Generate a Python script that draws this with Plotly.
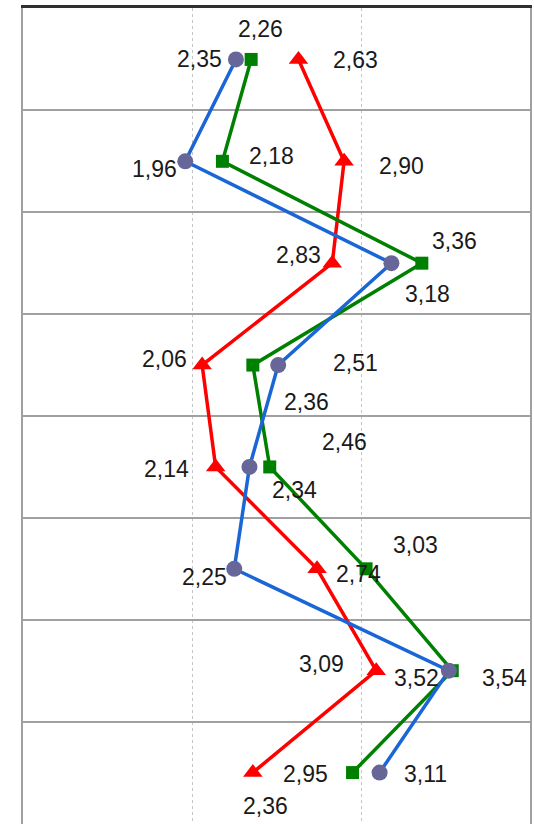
import plotly.graph_objects as go

categories = ["1", "2", "3", "4", "5", "6", "7", "8"]
blue_values = [2.26, 1.96, 3.18, 2.51, 2.34, 2.25, 3.52, 3.11]
green_values = [2.35, 2.18, 3.36, 2.36, 2.46, 3.03, 3.54, 2.95]
red_values = [2.63, 2.90, 2.83, 2.06, 2.14, 2.74, 3.09, 2.36]

# label offsets in pixels (dx right, dy down) relative to each point
blue_offsets = [(25, -30), (-31, 8), (36, 31), (77, -2), (45, 23), (-30, 8), (-32, 7), (46, 1)]
green_offsets = [(-52, 0), (49, -5), (33, -22), (54, 37), (75, -25), (49, -24), (52, 7), (-47, 1)]
red_offsets = [(57, 1), (57, 5), (-34, -8), (-38, -6), (-49, 2), (41, 5), (-55, -7), (13, 33)]

series = [
    ("red", red_values, red_offsets, "#ff0000", "#ff0000", "triangle-up", 17),
    ("green", green_values, green_offsets, "#008000", "#008000", "square", 13),
    ("blue", blue_values, blue_offsets, "#1a66d6", "#666699", "circle", 16),
]

fig = go.Figure()
annotations = []
for name, vals, offs, lc, mc, sym, size in series:
    fig.add_trace(go.Scatter(
        x=vals, y=categories, mode="lines+markers", name=name,
        line=dict(color=lc, width=3.5),
        marker=dict(color=mc, symbol=sym, size=size, line=dict(width=0)),
        showlegend=False, hoverinfo="skip",
    ))
    for i, (v, (dx, dy)) in enumerate(zip(vals, offs)):
        annotations.append(dict(
            x=v, y=i, xref="x", yref="y", text=f"{v:.2f}".replace(".", ","),
            showarrow=False, xshift=dx, yshift=-dy,
            font=dict(family="Liberation Sans, Arial, sans-serif", size=23, color="#1a1a1a"),
        ))

fig.update_layout(
    width=534, height=824,
    margin=dict(l=23, r=4, t=8, b=0),
    paper_bgcolor="white", plot_bgcolor="white",
    annotations=annotations,
    xaxis=dict(range=[1, 4], dtick=1, tick0=1, showticklabels=False, ticks="",
               showgrid=True, gridcolor="#c4c4c4", gridwidth=1, griddash="dot",
               zeroline=False, showline=True, side="top", linecolor="#303030", linewidth=2.5),
    yaxis=dict(type="category", categoryorder="array", categoryarray=categories,
               autorange="reversed", tickson="boundaries", showticklabels=False, ticks="",
               showgrid=True, gridcolor="#a0a0a0", gridwidth=1.5, zeroline=False,
               showline=True, mirror=True, linecolor="#a0a0a0", linewidth=2),
)

fig.write_html("out.html", config={"displayModeBar": False},
               post_script="document.body.style.margin='0';document.body.style.overflow='hidden';")
